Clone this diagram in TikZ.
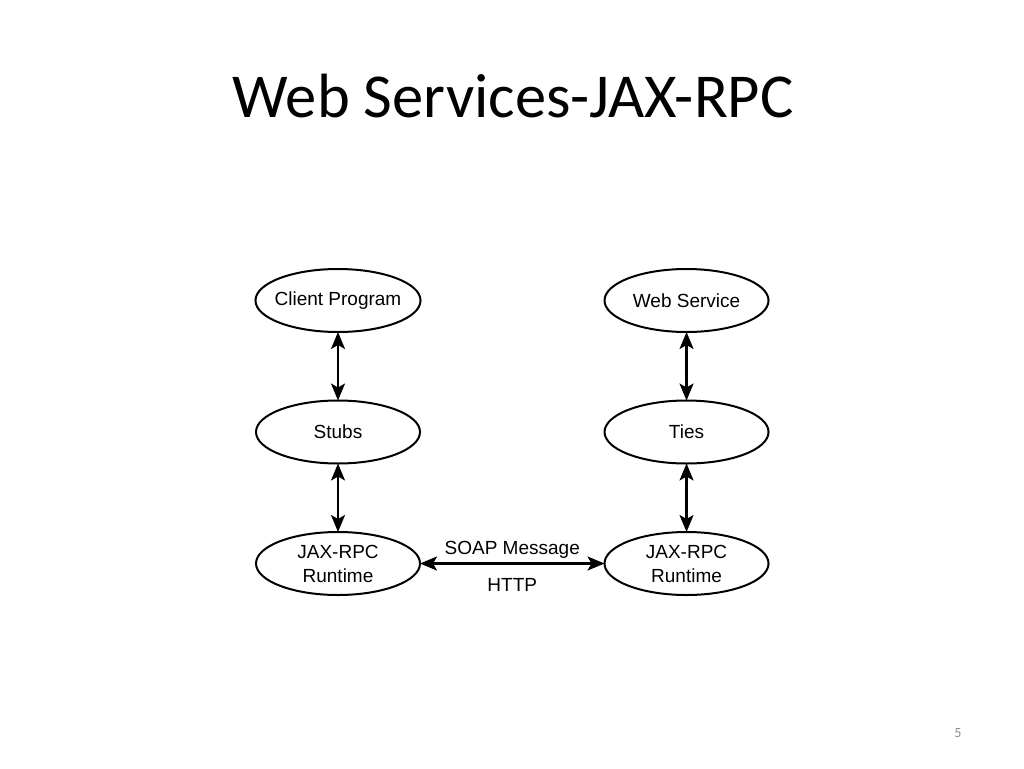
\documentclass[tikz,border=0pt]{standalone}
\usepackage{fontspec}
\setmainfont{Liberation Sans}
\newfontfamily\titlefont{Carlito}
\usepackage{xcolor}
\usetikzlibrary{shapes.geometric, arrows.meta, positioning}

\begin{document}
\begin{tikzpicture}
	[
		x=1pt, y=-1pt,
		layer/.style={draw, ellipse, line width=2pt, minimum width=164pt, minimum height=63pt,
			inner xsep=-5pt, inner ysep=0pt, outer sep=0pt, align=center, font=\fontsize{19}{24}\selectfont},
		link/.style={line width=2.2pt, {Stealth[length=17pt,width=14pt,inset=4pt]}-{Stealth[length=17pt,width=14pt,inset=4pt]}},
		node distance=68.5pt and 184pt
	]
		\useasboundingbox (0,0) rectangle (1024,768);
		\node[font=\titlefont\fontsize{62.5}{64}\selectfont, anchor=base] (title) at (513,117) {Web Services-JAX-RPC};

		\node[layer] (client) at (338,300.5) {Client Program};
		\node[layer, below=of client] (stubs) {Stubs};
		\node[layer, below=of stubs] (crt) {JAX-RPC\\Runtime};
		\node[layer, right=of client] (service) {Web Service};
		\node[layer, below=of service] (ties) {Ties};
		\node[layer, below=of ties] (srt) {JAX-RPC\\Runtime};

		\draw[link] (client) -- (stubs);
		\draw[link] (stubs) -- (crt);
		\draw[link] (service) -- (ties);
		\draw[link] (ties) -- (srt);
		\draw[link] (crt) -- node[above=1pt, font=\fontsize{19}{21}\selectfont] {SOAP Message}
			node[below=10pt, font=\fontsize{19}{21}\selectfont] {HTTP} (srt);

		\node[font=\titlefont\fontsize{14}{16}\selectfont, text=black!45] (page) at (958,733) {5};
\end{tikzpicture}
\end{document}
